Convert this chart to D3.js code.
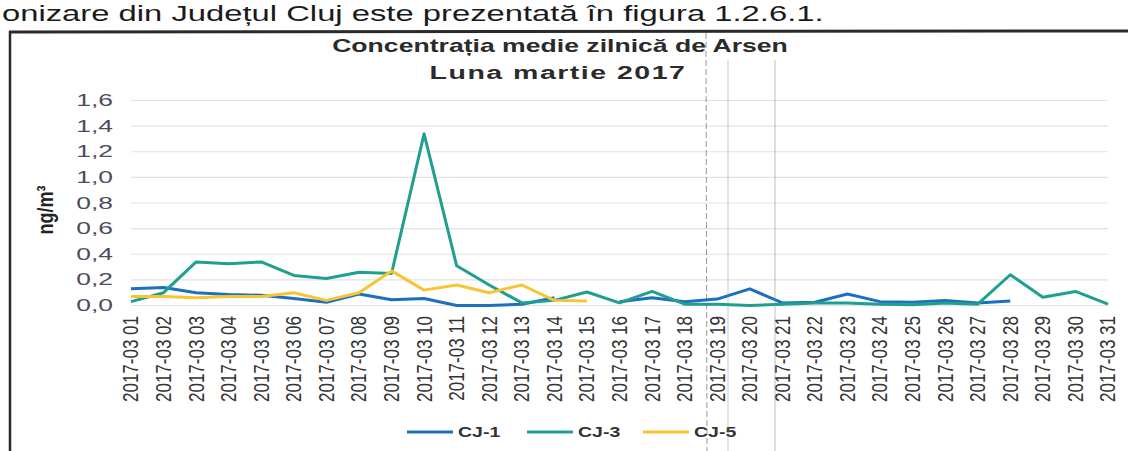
<!DOCTYPE html>
<html><head><meta charset="utf-8">
<script src="https://cdn.jsdelivr.net/npm/d3@7/dist/d3.min.js"></script>
<style>html,body{margin:0;padding:0;background:#fff;}svg{display:block;font-family:"Liberation Sans",Arial,sans-serif;}</style>
</head><body>
<script>
// ---- data ----
const days = ["2017-03 01","2017-03 02","2017-03 03","2017-03 04","2017-03 05","2017-03 06","2017-03 07","2017-03 08","2017-03 09","2017-03 10","2017-03 11","2017-03 12","2017-03 13","2017-03 14","2017-03 15","2017-03 16","2017-03 17","2017-03 18","2017-03 19","2017-03 20","2017-03 21","2017-03 22","2017-03 23","2017-03 24","2017-03 25","2017-03 26","2017-03 27","2017-03 28","2017-03 29","2017-03 30","2017-03 31"];
const cj1 = [0.13,0.14,0.10,0.085,0.08,0.055,0.025,0.09,0.045,0.055,0.0,0.0,0.01,0.06,null,0.03,0.06,0.03,0.05,0.13,0.02,0.025,0.09,0.03,0.025,0.04,0.02,0.035,null,null,null];
const cj3 = [0.03,0.10,0.34,0.325,0.34,0.235,0.21,0.26,0.25,1.34,0.31,0.16,0.02,0.04,0.105,0.02,0.11,0.01,0.01,0.0,0.01,0.02,0.02,0.01,0.005,0.02,0.01,0.24,0.065,0.11,0.01];
const cj5 = [0.07,0.07,0.06,0.07,0.07,0.10,0.04,0.10,0.27,0.12,0.16,0.10,0.16,0.04,0.035,null,null,null,null,null,null,null,null,null,null,null,null,null,null,null,null];
const seriesNames = ["CJ-1","CJ-3","CJ-5"];
const seriesColors = ["#1c70c0","#1f9f8f","#f7c531"];
const yTicks = [0,0.2,0.4,0.6,0.8,1.0,1.2,1.4,1.6];
const yTickLabels = ["0,0","0,2","0,4","0,6","0,8","1,0","1,2","1,4","1,6"];
const title1 = "Concentrația medie zilnică de Arsen";
const title2 = "Luna martie 2017";
const yLabel = "ng/m³";
const headerText = "onizare din Județul Cluj este prezentată în figura 1.2.6.1.";

const W = 1128, H = 451, SX = 1.3;
const svg = d3.select("body").append("svg").attr("width", W).attr("height", H);

const x = d3.scalePoint().domain(days).range([131, 1108]);
const y = d3.scaleLinear().domain([0, 1.6]).range([305.5, 100.5]);

function stext(px, py, str, opts) {
  const g = svg.append("g").attr("transform", `translate(${px},${py}) scale(${opts.sx||SX},1)` + (opts.rot ? ` rotate(${opts.rot})` : ""));
  const t = g.append("text").text(str)
    .attr("font-size", opts.size).attr("font-weight", opts.weight || "normal")
    .attr("fill", opts.fill || "#333").attr("text-anchor", opts.anchor || "start");
  if (opts.dy) t.attr("dy", opts.dy);
  if (opts.ls) t.attr("letter-spacing", opts.ls);
  return t;
}

// header text from the page above the chart
stext(2, 21, headerText, {size: 22, fill: "#1a1a1a", sx: 1.49});

// frame
svg.append("line").attr("x1", 9).attr("x2", W).attr("y1", 32).attr("y2", 31).attr("stroke", "#2a2a2a").attr("stroke-width", 3);
svg.append("line").attr("x1", 10).attr("x2", 10).attr("y1", 31).attr("y2", H).attr("stroke", "#2a2a2a").attr("stroke-width", 2.5);

// gridlines
svg.append("g").selectAll("line").data(yTicks).join("line")
  .attr("x1", x.range()[0]).attr("x2", x.range()[1])
  .attr("y1", d => y(d)).attr("y2", d => y(d))
  .attr("stroke", "#e2e2e6").attr("stroke-width", 1.2);

// y tick labels
yTicks.forEach((v, i) => stext(113, y(v), yTickLabels[i], {size: 16, fill: "#4c4c5c", anchor: "end", dy: "0.35em", sx: 1.65}));

// x labels
days.forEach(d => stext(x(d), 316, d, {size: 17, fill: "#333", anchor: "end", dy: "0.35em", rot: -90, sx: 1.25}));

// titles
stext(560, 52, title1, {size: 19, weight: "bold", fill: "#2b2b2b", anchor: "middle", sx: 1.4});
stext(558, 79, title2, {size: 19, weight: "bold", fill: "#2b2b2b", anchor: "middle", sx: 1.5, ls: 1});

// y axis label
stext(45, 210, yLabel, {size: 18, weight: "bold", fill: "#222", anchor: "middle", dy: "0.35em", rot: -90, sx: 1.25});

// lines
const allSeries = [cj1, cj3, cj5];
const line = d3.line().defined(d => d.v !== null).x(d => x(d.day)).y(d => y(d.v));
allSeries.forEach((s, i) => {
  svg.append("path").datum(s.map((v, j) => ({day: days[j], v})))
    .attr("fill", "none").attr("stroke", seriesColors[i]).attr("stroke-width", 3)
    .attr("stroke-linejoin", "round").attr("d", line);
});

// legend
const legendX = [407, 527, 643];
seriesNames.forEach((n, i) => {
  svg.append("line").attr("x1", legendX[i]).attr("x2", legendX[i] + 46)
    .attr("y1", 432).attr("y2", 432).attr("stroke", seriesColors[i]).attr("stroke-width", 3);
  stext(legendX[i] + 51, 432, n, {size: 15, weight: "bold", fill: "#333", dy: "0.35em", sx: 1.3});
});

// scan artefacts (faint vertical lines)
svg.append("line").attr("x1", 706).attr("x2", 707).attr("y1", 33).attr("y2", H).attr("stroke", "#555").attr("stroke-width", 1).attr("stroke-dasharray", "6,3").attr("opacity", 0.6);
svg.append("line").attr("x1", 728).attr("x2", 728).attr("y1", 60).attr("y2", H).attr("stroke", "#888").attr("stroke-width", 1).attr("opacity", 0.45);
svg.append("line").attr("x1", 775).attr("x2", 775).attr("y1", 60).attr("y2", H).attr("stroke", "#888").attr("stroke-width", 1.2).attr("opacity", 0.45);
</script>
</body></html>
